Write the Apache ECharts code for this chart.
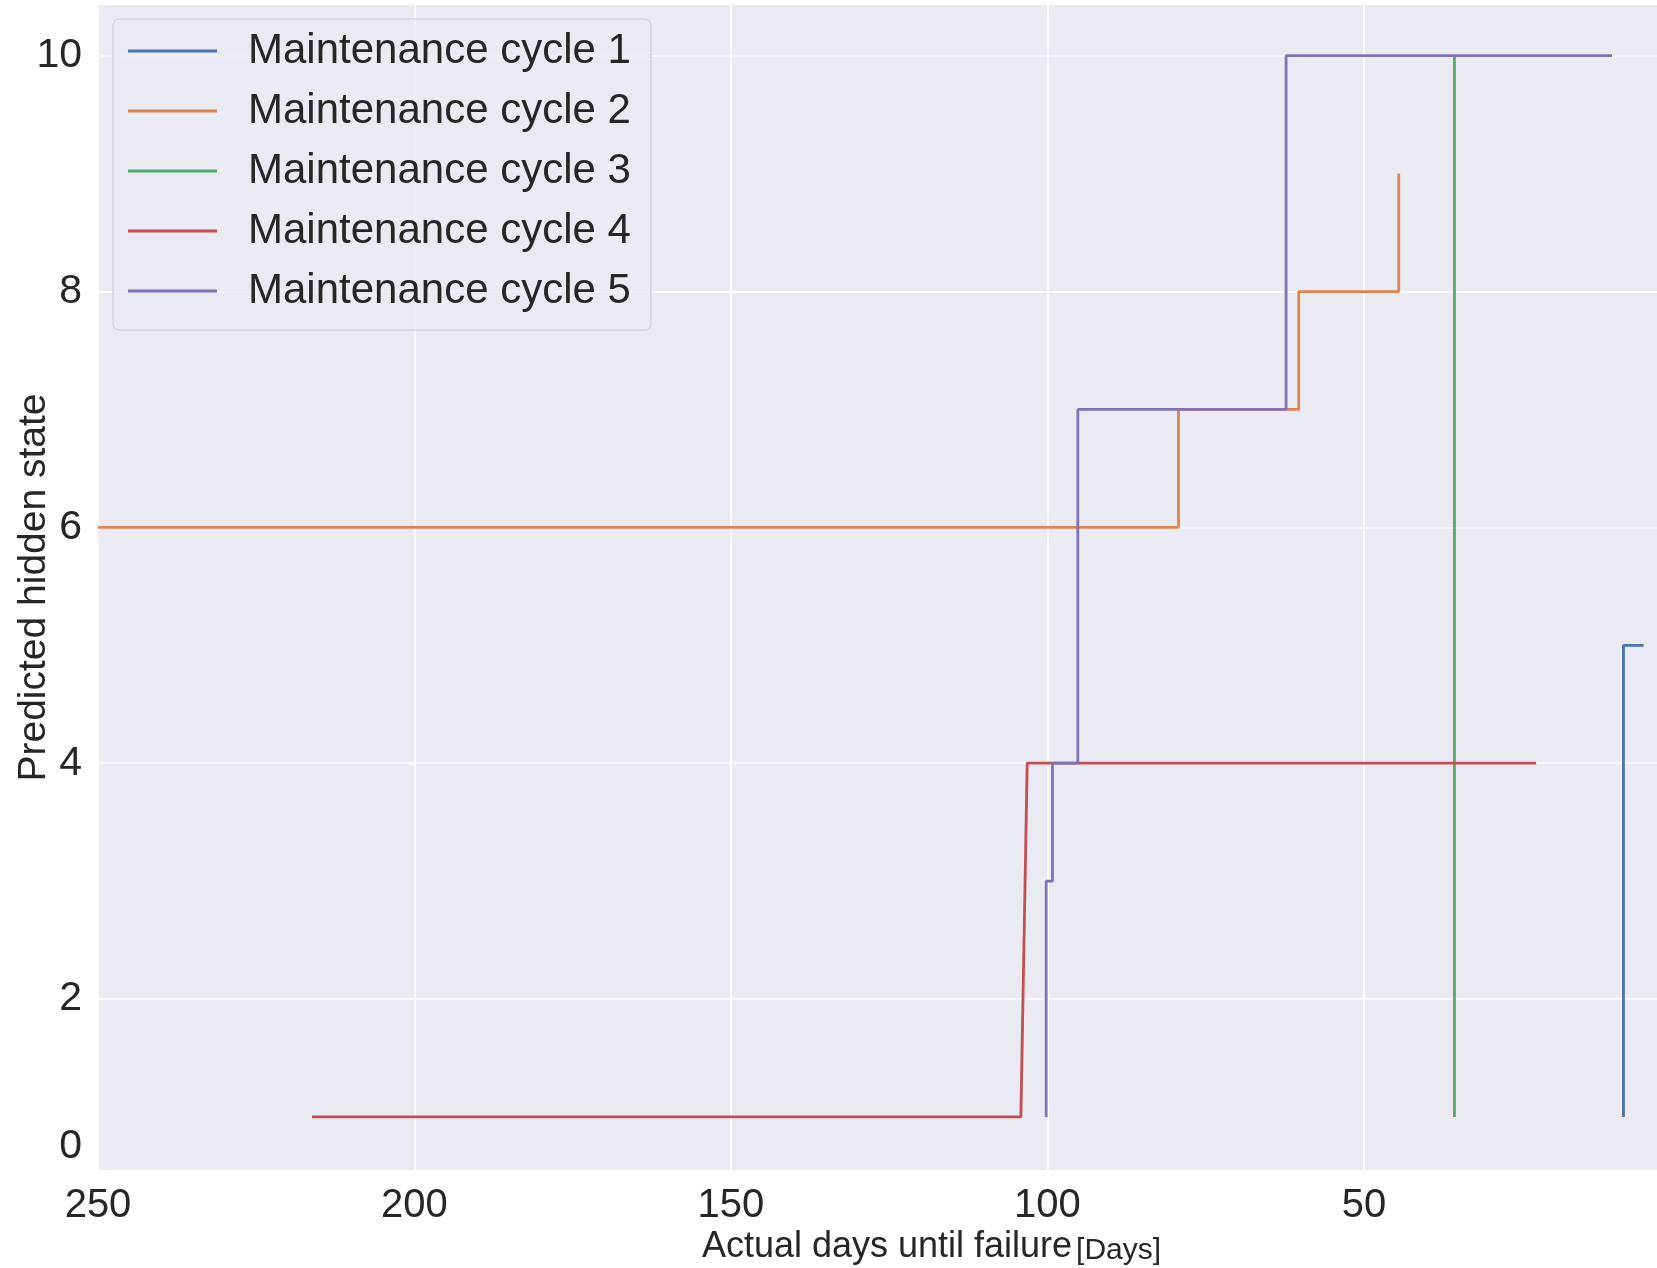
<!DOCTYPE html>
<html>
<head>
<meta charset="utf-8">
<title>Predicted hidden state</title>
<script src="https://cdn.jsdelivr.net/npm/echarts@6/dist/echarts.min.js"></script>
<style>
  html, body { margin: 0; padding: 0; background: #fff; }
  #chart { width: 1657px; height: 1268px; }
</style>
</head>
<body>
<div id="chart"></div>
<script>
// days until failure (x) and predicted state (y) for each cycle
var cycleNames = ['Maintenance cycle 1', 'Maintenance cycle 2', 'Maintenance cycle 3', 'Maintenance cycle 4', 'Maintenance cycle 5'];
var cycleColors = ['#4C72B0', '#DD8452', '#55A868', '#C44E52', '#8172B3'];

var cycle1Days = [9, 9, 5.8];
var cycle1States = [1, 5, 5];

var cycle2Days = [250, 79.3, 79.3, 60.3, 60.3, 44.5, 44.5];
var cycle2States = [6, 6, 7, 7, 8, 8, 9];

var cycle3Days = [35.7, 35.7];
var cycle3States = [1, 10];

var cycle4Days = [216.2, 104.2, 103.2, 22.8];
var cycle4States = [1, 1, 4, 4];

var cycle5Days = [100.2, 100.2, 99.2, 99.2, 95.2, 95.2, 62.3, 62.3, 10.8];
var cycle5States = [1, 3, 3, 4, 4, 7, 7, 10, 10];

var xTicks = [50, 100, 150, 200, 250];
var yTicks = [2, 4, 6, 8, 10];
var yLabelTicks = [0.745, 2, 4, 6, 8, 10]; // the "0" label sits below the lowest grid line

var allDays = [cycle1Days, cycle2Days, cycle3Days, cycle4Days, cycle5Days];
var allStates = [cycle1States, cycle2States, cycle3States, cycle4States, cycle5States];

function pairs(xs, ys) {
  return xs.map(function (x, i) { return [x, ys[i]]; });
}

var series = cycleNames.map(function (name, i) {
  return {
    name: name,
    type: 'line',
    data: pairs(allDays[i], allStates[i]),
    symbol: 'none',
    lineStyle: { color: cycleColors[i], width: 2.8 },
    itemStyle: { color: cycleColors[i] },
    clip: true
  };
});

var font = 'Liberation Sans, Arial, sans-serif';
var txt = '#262626';

var myChart = echarts.init(document.getElementById('chart'));
var option = {
  animation: false,
  backgroundColor: '#ffffff',
  textStyle: { fontFamily: font },
  grid: {
    left: 98, right: 0, top: 5, bottom: 98,
    outerBoundsMode: 'none',
    containLabel: false,
    show: true, backgroundColor: '#EAEAF2', borderWidth: 0
  },
  legend: {
    orient: 'vertical',
    left: 113, top: 19,
    padding: [9, 20, 16, 15],
    icon: 'rect',
    itemWidth: 89, itemHeight: 3, itemGap: 14,
    backgroundColor: 'rgba(234,234,242,0.85)',
    borderColor: '#d4d4dc', borderWidth: 1.5, borderRadius: 6,
    textStyle: { fontSize: 42, color: txt, fontFamily: font, lineHeight: 46, padding: [0, 0, 0, 26] },
    data: cycleNames
  },
  xAxis: {
    type: 'value',
    inverse: true,
    min: 3.7, max: 250,
    axisLine: { show: false },
    axisTick: { show: false, customValues: xTicks },
    axisLabel: { customValues: xTicks, fontSize: 40, color: txt, margin: 16, fontFamily: font },
    splitLine: { lineStyle: { color: '#ffffff', width: 1.5 } },
    name: '{pad|}{a|Actual days until failure}{b|[Days]}',
    nameLocation: 'middle',
    nameMoveOverlap: false,
    nameGap: 58,
    nameTextStyle: {
      rich: {
        pad: { width: 108 },
        a: { fontSize: 36, color: txt, fontFamily: font },
        b: { fontSize: 30, color: txt, fontFamily: font, padding: [8, 0, 0, 4] }
      }
    }
  },
  yAxis: {
    type: 'value',
    min: 0.55, max: 10.43,
    axisLine: { show: false },
    axisTick: { show: false, customValues: yTicks },
    axisLabel: {
      customValues: yLabelTicks,
      fontSize: 41, color: txt, margin: 16, fontFamily: font,
      formatter: function (v) { return v < 1 ? '0' : String(v); }
    },
    splitLine: { lineStyle: { color: '#ffffff', width: 1.5 } },
    name: 'Predicted hidden state',
    nameLocation: 'middle',
    nameMoveOverlap: false,
    nameGap: 44,
    nameTextStyle: { fontSize: 39, color: txt, fontFamily: font }
  },
  series: series
};
myChart.setOption(option);
window.addEventListener('resize', function () { myChart.resize(); });
</script>
</body>
</html>
